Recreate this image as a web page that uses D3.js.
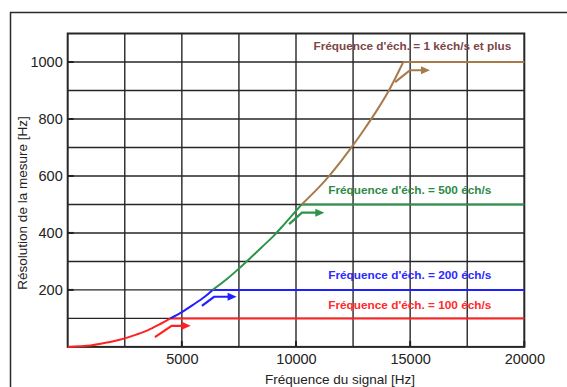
<!DOCTYPE html>
<html>
<head>
<meta charset="utf-8">
<script src="https://cdn.jsdelivr.net/npm/d3@7"></script>
<style>
  html, body { margin: 0; padding: 0; background: #fff; }
  text { font-family: "Liberation Sans", Arial, sans-serif; }
</style>
</head>
<body>
<svg id="chart" width="567" height="387"></svg>
<script>
// ---- Data ----
const xTicks = [5000, 10000, 15000, 20000];
const yTicks = [200, 400, 600, 800, 1000];
const xGrid = [2500, 5000, 7500, 10000, 12500, 15000, 17500];
const yGrid = [100, 200, 300, 400, 500, 600, 700, 800, 900, 1000];

// rising part of each series, then its plateau
const redRise = [[0,0],[1000,5],[1500,12],[2000,20],[2500,30],[3000,43],[3500,58],[4000,78],[4500,100]];
const blueRise = [[4500,100],[5000,122],[5500,148],[6000,176],[6350,200]];
const greenRise = [[6350,200],[7000,240],[7500,275],[8000,312],[8500,350],[9000,388],[9500,432],[10250,500]];
const brownRise = [[10250,500],[11000,560],[11500,605],[12000,655],[12500,708],[13000,765],[13500,825],[14000,890],[14700,1000]];
const plateaus = [[4500,20000,100],[6350,20000,200],[10250,20000,500],[14700,20000,1000]];

const redArrow = [[3820,34],[4550,74],[5390,74]];
const blueArrow = [[5880,144],[6410,176],[7400,176]];
const greenArrow = [[9700,431],[10260,471],[11240,471]];
const brownArrow = [[14340,929],[14990,971],[15870,971]];

const seriesLabels = ["Fréquence d'éch. = 100 éch/s", "Fréquence d'éch. = 200 éch/s", "Fréquence d'éch. = 500 éch/s", "Fréquence d'éch. = 1 kéch/s et plus"];
const labelPos = [[11500,143],[11500,250],[11500,548],[20000,1052]];

const xTitle = "Fréquence du signal [Hz]";
const yTitle = "Résolution de la mesure [Hz]";

// ---- Layout ----
const svg = d3.select("#chart");
const L = 67.7, R = 524.3, T = 33.5, B = 346.9;
const x = d3.scaleLinear().domain([0, 20000]).range([L, R]);
const y = d3.scaleLinear().domain([0, 1100]).range([B, T]);

svg.append("rect").attr("width", 567).attr("height", 387).attr("fill", "#fff");
// outer frame
svg.append("rect").attr("x", 10.5).attr("y", 12.5).attr("width", 600).attr("height", 500)
  .attr("fill", "none").attr("stroke", "#2a2a2a").attr("stroke-width", 1.5);

// grid
const g = svg.append("g");
g.selectAll(".vg").data(xGrid).join("line")
  .attr("x1", d => x(d)).attr("x2", d => x(d)).attr("y1", T).attr("y2", B)
  .attr("stroke", "#262626").attr("stroke-width", 1.4);
g.selectAll(".hg").data(yGrid).join("line")
  .attr("x1", L).attr("x2", R).attr("y1", d => y(d)).attr("y2", d => y(d))
  .attr("stroke", "#262626").attr("stroke-width", 1.4);

// frame of plot
svg.append("rect").attr("x", L).attr("y", T).attr("width", R - L).attr("height", B - T)
  .attr("fill", "none").attr("stroke", "#262626").attr("stroke-width", 2);

// axes via d3
const xAxis = d3.axisBottom(x).tickValues(xTicks).tickSize(0).tickPadding(7).tickFormat(d3.format("d"));
const yAxis = d3.axisLeft(y).tickValues(yTicks).tickSize(0).tickPadding(5).tickFormat(d3.format("d"));
const gx = svg.append("g").attr("transform", `translate(0,${B})`).call(xAxis);
const gy = svg.append("g").attr("transform", `translate(${L},0)`).call(yAxis);
[gx, gy].forEach(a => {
  a.select(".domain").remove();
  a.selectAll("text").attr("font-size", "14.5px").attr("fill", "#222")
    .attr("font-family", "'Liberation Sans', Arial, sans-serif");
});
svg.selectAll(".ytk").data(yTicks).join("line")
  .attr("x1", L).attr("x2", L + 6).attr("y1", d => y(d)).attr("y2", d => y(d))
  .attr("stroke", "#222").attr("stroke-width", 2);
svg.selectAll(".xtk").data(xTicks).join("line")
  .attr("x1", d => x(d)).attr("x2", d => x(d)).attr("y1", B).attr("y2", B - 6)
  .attr("stroke", "#222").attr("stroke-width", 2);

// titles
svg.append("text").attr("x", 340).attr("y", 384).attr("text-anchor", "middle")
  .attr("font-size", "13.5px").attr("fill", "#222").text(xTitle);
svg.append("text").attr("transform", "translate(27,203) rotate(-90)").attr("text-anchor", "middle")
  .attr("font-size", "13.5px").attr("fill", "#222").text(yTitle);

// curves
const line = d3.line().x(d => x(d[0])).y(d => y(d[1]));
const smooth = d3.line().x(d => x(d[0])).y(d => y(d[1])).curve(d3.curveCatmullRom.alpha(0.5));
const series = [
  {rise: redRise, arrow: redArrow, color: "#ff2222", label: "#ff2a2a"},
  {rise: blueRise, arrow: blueArrow, color: "#1f1fff", label: "#2a2aff"},
  {rise: greenRise, arrow: greenArrow, color: "#2b9448", label: "#2b8a48"},
  {rise: brownRise, arrow: brownArrow, color: "#a77a4c", label: "#7d4646"}
];
series.forEach((s, i) => {
  const p = plateaus[i];
  svg.append("path").attr("d", line([[p[0], p[2]], [p[1], p[2]]])).attr("fill", "none")
    .attr("stroke", s.color).attr("stroke-width", 2);
  svg.append("path").attr("d", smooth(s.rise)).attr("fill", "none")
    .attr("stroke", s.color).attr("stroke-width", 2);
  // arrow
  const a = s.arrow;
  const tip = a[2];
  const shaft = [a[0], a[1], [tip[0] - 330, tip[1]]];
  svg.append("path").attr("d", line(shaft)).attr("fill", "none")
    .attr("stroke", s.color).attr("stroke-width", 2.2);
  const tx = x(tip[0]), ty = y(tip[1]);
  svg.append("path").attr("d", `M${tx},${ty} L${tx - 9},${ty - 4} L${tx - 9},${ty + 4} Z`)
    .attr("fill", s.color);
  // label
  const lp = labelPos[i];
  svg.append("text").attr("x", i === 3 ? x(lp[0]) - 13 : x(lp[0]) - 2).attr("y", y(lp[1]))
    .attr("text-anchor", i === 3 ? "end" : "start")
    .attr("dominant-baseline", "middle")
    .attr("font-size", "11.8px").attr("font-weight", "bold").attr("fill", s.label)
    .text(seriesLabels[i]);
});
</script>
</body>
</html>
